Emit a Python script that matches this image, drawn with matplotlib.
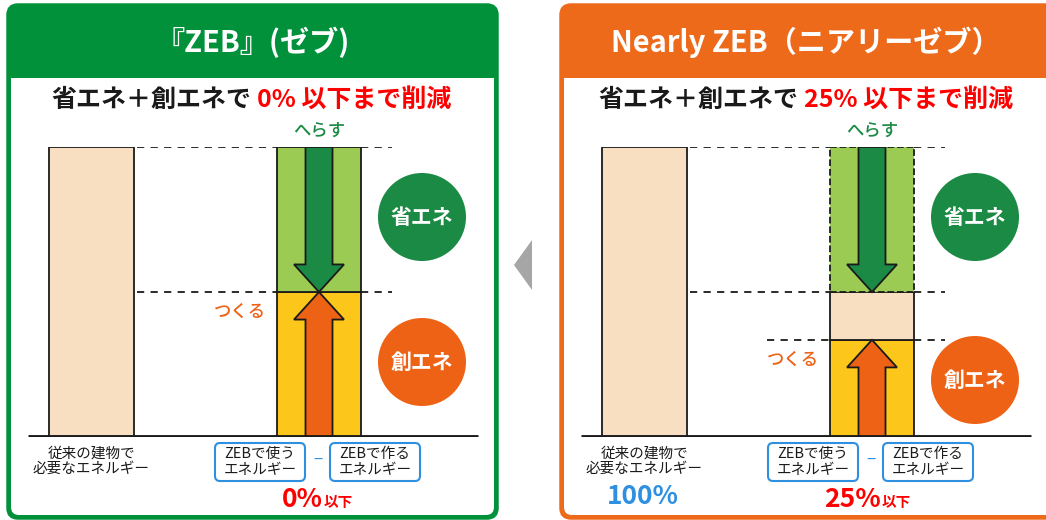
import matplotlib

matplotlib.use("Agg")
import matplotlib.pyplot as plt
from matplotlib.patches import FancyBboxPatch, Circle, Polygon, Rectangle

plt.rcParams["font.family"] = ["Noto Sans CJK JP", "DejaVu Sans"]

# --- data (energy, % of a conventional building) ---------------------------
panel_titles = ["『ZEB』(ゼブ)", "Nearly ZEB（ニアリーゼブ）"]
subtitle_red = ["0% 以下まで削減", "25% 以下まで削減"]
result_main = ["0%", "25%"]
conventional = [100, 100]
save_energy = [50, 50]       # 省エネ (へらす)
remaining = [0, 16.5]        # energy still bought in
create_energy = [50, 33.5]   # 創エネ (つくる)

# --- style ------------------------------------------------------------------
HEAD = ["#00913a", "#ee6a1b"]
BEIGE = "#f8dfc2"
LGREEN = "#9bcb52"
DGREEN = "#1b8a44"
YELLOW = "#fcc61a"
ORANGE = "#ee6216"
RED = "#ff0000"
BLUE = "#2f8fe0"
INK = "#1a1a1a"

W, H = 1046, 520
fig = plt.figure(figsize=(W / 100, H / 100), dpi=100)
bg = fig.add_axes([0, 0, 1, 1])
bg.set_xlim(0, W)
bg.set_ylim(H, 0)
bg.axis("off")

# chart axes: y=0 at baseline pixel 437, y=100 at pixel 147
base_px, top_px = 437, 147
ax = fig.add_axes([0, (H - base_px) / H, 1, (base_px - top_px) / H])
ax.set_xlim(0, W)
ax.set_ylim(0, 100)
ax.axis("off")
ax.patch.set_alpha(0)

offsets = [0, 553]

for i, dx in enumerate(offsets):
    left = 8 + dx
    right = 497 + dx if i == 0 else W + 14   # right panel runs off the canvas
    # panel frame + header
    bg.add_patch(FancyBboxPatch((left, 5), right - left, 513,
                                boxstyle="round,pad=0,rounding_size=10",
                                fc=HEAD[i], ec=HEAD[i], lw=2.5))
    bg.add_patch(FancyBboxPatch((left + 3, 78), right - left - 6, 437,
                                boxstyle="round,pad=0,rounding_size=8",
                                fc="white", ec="none"))
    bg.add_patch(Rectangle((left + 3, 78), right - left - 6, 20, fc="white", ec="none"))
    bg.text(252.5 + dx, 42, panel_titles[i], color="white", fontsize=21,
            fontweight="bold", ha="center", va="center")

    # subtitle
    split = 251 + dx - 6 * i
    bg.text(split, 100, "省エネ＋創エネで", fontsize=18, fontweight="bold",
            color=INK, ha="right", va="center")
    bg.text(split + 6, 100, subtitle_red[i], fontsize=18, fontweight="bold",
            color=RED, ha="left", va="center")

    # conventional building bar
    bar_x = 91.5 + dx
    col_x = 319 + dx
    ax.bar(bar_x, conventional[i], width=85, color=BEIGE, edgecolor=INK, lw=1.3, zorder=2)

    # ZEB column (stacked)
    ax.bar(col_x, create_energy[i], width=84, color=YELLOW, edgecolor=INK, lw=1.3, zorder=2)
    if remaining[i] > 0:
        ax.bar(col_x, remaining[i], width=84, bottom=create_energy[i], color=BEIGE,
               edgecolor=INK, lw=1.3, zorder=2)
    top_start = create_energy[i] + remaining[i]
    ax.bar(col_x, save_energy[i], width=84, bottom=top_start, color=LGREEN,
           edgecolor=INK, lw=1.3, ls="--" if remaining[i] > 0 else "-", zorder=2)

    # arrows
    sw, hw, hl = 13.5, 25, 9.5
    tip = conventional[i] - save_energy[i]
    top = conventional[i]
    ax.add_patch(Polygon([(col_x - sw, top), (col_x + sw, top), (col_x + sw, tip + hl),
                          (col_x + hw, tip + hl), (col_x, tip), (col_x - hw, tip + hl),
                          (col_x - sw, tip + hl)], closed=True, fc=DGREEN, ec=INK,
                         lw=1.3, zorder=3))
    up = create_energy[i]
    ax.add_patch(Polygon([(col_x - sw, 0), (col_x + sw, 0), (col_x + sw, up - hl),
                          (col_x + hw, up - hl), (col_x, up), (col_x - hw, up - hl),
                          (col_x - sw, up - hl)], closed=True, fc=ORANGE, ec=INK,
                         lw=1.3, zorder=3))

    # dashed guide lines
    levels = [top, tip] + ([up] if remaining[i] > 0 else [])
    for k, lv in enumerate(levels):
        x0 = 137 + dx if k < 2 else 767 - 553 + dx
        ax.plot([x0, col_x - 42], [lv, lv], color=INK, ls=(0, (4, 3.5)), lw=1.3, zorder=1)
        ax.plot([col_x + 42, 392 + dx], [lv, lv], color=INK, ls=(0, (4, 3.5)), lw=1.3,
                zorder=1)

    # baseline
    ax.plot([28 + dx, 478 + dx], [0, 0], color=INK, lw=3.5, zorder=4, solid_capstyle="butt")

    # labels へらす / つくる
    bg.text(col_x, 131, "へらす", fontsize=12.5, color=DGREEN, fontweight="medium",
            ha="center", va="center")
    tsukuru_y = base_px - up / 100 * (base_px - top_px) + 20
    bg.text(col_x - 79, tsukuru_y, "つくる", fontsize=12.5, color=ORANGE,
            fontweight="medium", ha="center", va="center")

    # circles
    cx = 422 + dx
    cy_save, cy_create = 217, 362 + (18 if remaining[i] > 0 else 0)
    bg.add_patch(Circle((cx, cy_save), 44, fc=DGREEN, ec="none"))
    bg.text(cx, cy_save, "省エネ", color="white", fontsize=15, fontweight="bold",
            ha="center", va="center")
    bg.add_patch(Circle((cx, cy_create), 44, fc=ORANGE, ec="none"))
    bg.text(cx, cy_create, "創エネ", color="white", fontsize=15, fontweight="bold",
            ha="center", va="center")

    # bottom labels
    bg.text(bar_x, 461, "従来の建物で\n必要なエネルギー", fontsize=10.5, color=INK,
            ha="center", va="center", linespacing=1.15)
    for bx, label in [(260 + dx, "ZEBで使う\nエネルギー"), (375 + dx, "ZEBで作る\nエネルギー")]:
        bg.add_patch(FancyBboxPatch((bx - 45, 443), 90, 38,
                                    boxstyle="round,pad=0,rounding_size=5",
                                    fc="white", ec=BLUE, lw=1.5))
        bg.text(bx, 462, label, fontsize=10.5, color=INK, ha="center", va="center",
                linespacing=1.15)
    bg.text(col_x - 1, 460, "−", fontsize=12, color=BLUE, ha="center", va="center")

    # result
    rx = 323 + dx + (i * 5)
    bg.text(rx, 507, result_main[i], fontsize=19, fontweight="bold", color=RED,
            ha="right", va="baseline")
    bg.text(rx + 1, 507, "以下", fontsize=10.5, fontweight="bold", color=RED,
            ha="left", va="baseline")

bg.text(643, 497, "100%", fontsize=19, fontweight="bold", color=BLUE,
        ha="center", va="center")

# arrow between panels
bg.add_patch(Polygon([(514, 265), (532, 240), (532, 290)], closed=True,
                     fc="#a6a6a6", ec="none"))

fig.savefig("out.png", dpi=100)
